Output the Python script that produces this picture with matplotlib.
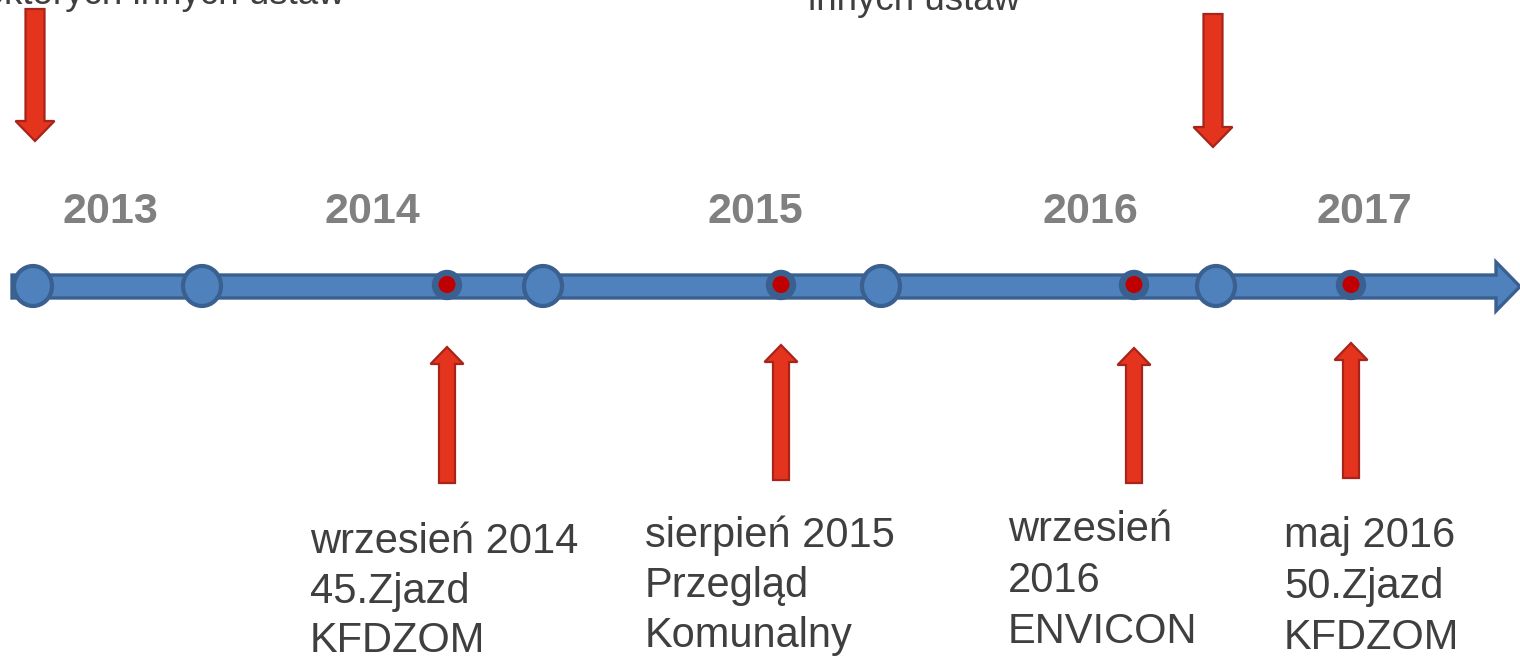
import matplotlib
matplotlib.use("Agg")
import matplotlib.pyplot as plt
from matplotlib.patches import FancyArrow, Circle, Ellipse

# ---- data ----
years = ["2013", "2014", "2015", "2016", "2017"]
year_x = [110, 372, 755, 1090, 1364]

node_x = [33, 202, 543, 881, 1216]           # large blue milestones
event_x = [447, 781, 1134, 1351]             # red event dots

event_labels = [
    ["wrzesień 2014", "45.Zjazd", "KFDZOM"],
    ["sierpień 2015", "Przegląd", "Komunalny"],
    ["wrzesień", "2016", "ENVICON"],
    ["maj 2016", "50.Zjazd", "KFDZOM"],
]
event_label_x = [310, 645, 1008, 1284]
event_label_base = [553, 547, 541, 547]
event_label_step = [49.5, 50, 51, 51]

up_arrow_tip = [347, 345, 348, 343]
up_arrow_bottom = [483, 480, 483, 478]

top_texts = ["niektórych innych ustaw", "innych ustaw"]
top_text_x = [345, 914]
top_text_ha = ["right", "center"]
top_text_base = [4, 10]

down_arrow_x = [35, 1213]
down_arrow_top = [9, 14]
down_arrow_tip = [141, 147]

# ---- style ----
BLUE = "#4F81BD"
BLUE_EDGE = "#3A6090"
RED = "#E5341E"
RED_EDGE = "#A8231A"
DOT_RED = "#C00000"
TXT = "#3F3F3F"
YEAR = "#808080"
FONT = ["Liberation Sans", "DejaVu Sans"]

fig = plt.figure(figsize=(15.2, 6.58), dpi=100)
ax = fig.add_axes([0, 0, 1, 1])
ax.set_xlim(0, 1520)
ax.set_ylim(658, 0)
ax.axis("off")

# timeline arrow
line_y = 286.5
ax.add_patch(FancyArrow(12, line_y, 1520 - 12, 0, width=23, head_width=49,
                        head_length=24, length_includes_head=True,
                        facecolor=BLUE, edgecolor=BLUE_EDGE, linewidth=2.4, zorder=2))

# big nodes
for x in node_x:
    ax.add_patch(Ellipse((x, line_y - 0.5), 38, 40, facecolor=BLUE,
                         edgecolor=BLUE_EDGE, linewidth=3.0, zorder=3))

# red event dots
for x in event_x:
    ax.add_patch(Circle((x, 285), 14.5, facecolor=BLUE_EDGE,
                        edgecolor=BLUE_EDGE, linewidth=1, zorder=3))
    ax.add_patch(Circle((x, 284.5), 8.5, facecolor=DOT_RED,
                        edgecolor="none", zorder=4))

# year labels
for t, x in zip(years, year_x):
    ax.text(x, 223, t, ha="center", va="baseline", fontsize=31,
            fontweight="bold", color=YEAR, family=FONT)

# up arrows and labels
for i, x in enumerate(event_x):
    b = up_arrow_bottom[i]
    tip = up_arrow_tip[i]
    ax.add_patch(FancyArrow(x, b, 0, tip - b, width=16, head_width=33,
                            head_length=17, length_includes_head=True,
                            facecolor=RED, edgecolor=RED_EDGE, linewidth=1.6,
                            zorder=2))
    for j, line in enumerate(event_labels[i]):
        ax.text(event_label_x[i], event_label_base[i] + j * event_label_step[i],
                line, ha="left", va="baseline", fontsize=30, color=TXT,
                family=FONT)

# down arrows
for x, top, tip in zip(down_arrow_x, down_arrow_top, down_arrow_tip):
    ax.add_patch(FancyArrow(x, top, 0, tip - top, width=19, head_width=39,
                            head_length=20, length_includes_head=True,
                            facecolor=RED, edgecolor=RED_EDGE, linewidth=1.6,
                            zorder=2))

# cut-off text at the top (as in the reference)
for t, x, ha, b in zip(top_texts, top_text_x, top_text_ha, top_text_base):
    ax.text(x, b, t, ha=ha, va="baseline", fontsize=26.5, color=TXT,
            family=FONT)

fig.savefig("out.png", dpi=100)
